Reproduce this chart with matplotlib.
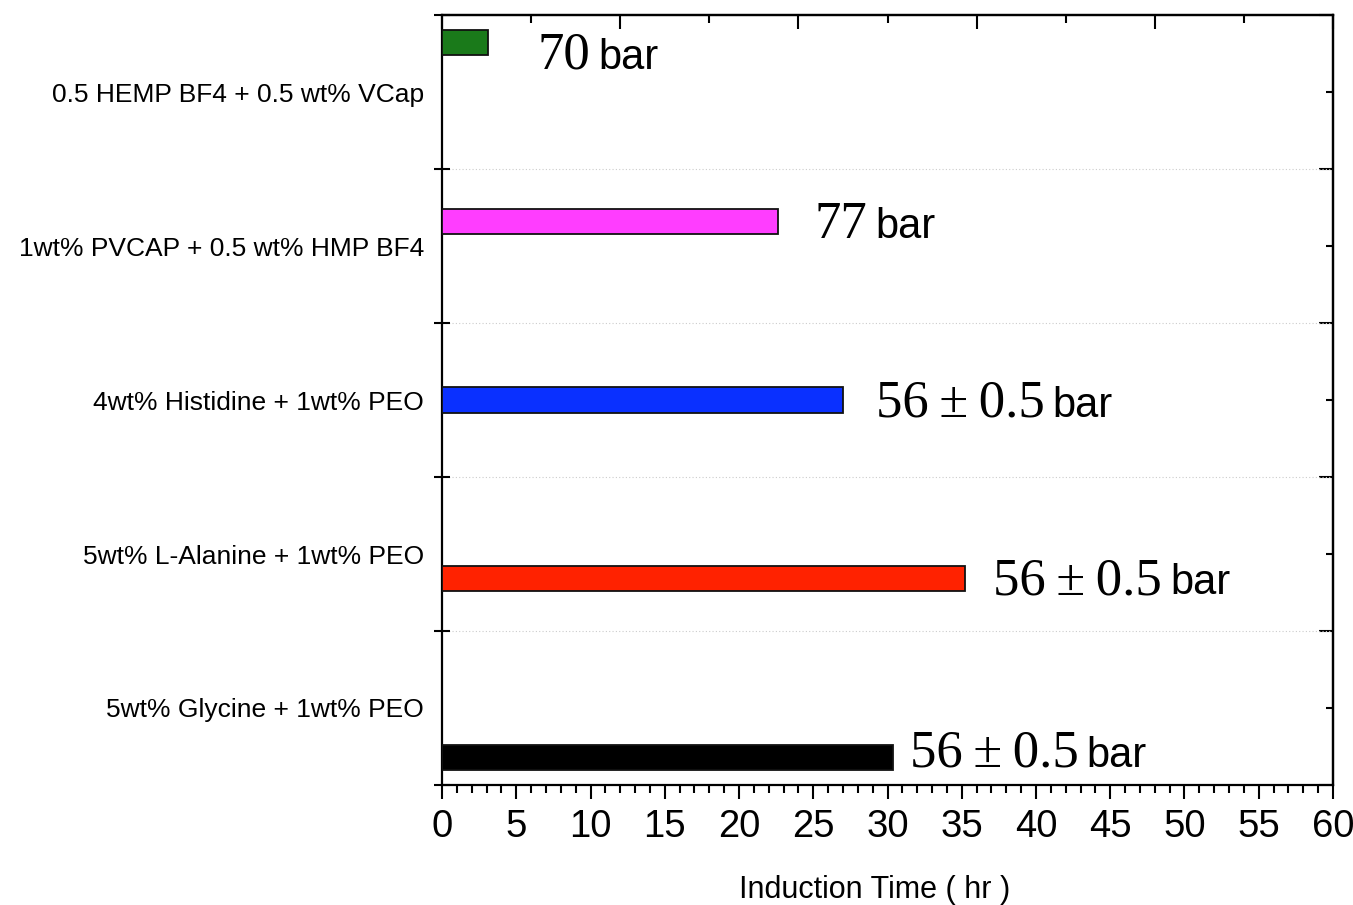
import matplotlib.pyplot as plt
import numpy as np

categories = ['0.5 HEMP BF4 + 0.5 wt% VCap',
              '1wt% PVCAP + 0.5 wt% HMP BF4',
              '4wt% Histidine + 1wt% PEO',
              '5wt% L-Alanine + 1wt% PEO',
              '5wt% Glycine + 1wt% PEO']
induction_time = [3.1, 22.6, 27.0, 35.2, 30.4]
pressure = ['70', '77', '56\u2009\u00b1\u20090.5', '56\u2009\u00b1\u20090.5', '56\u2009\u00b1\u20090.5']
colors = ['#1a7a1a', '#ff3dff', '#0a30ff', '#ff2200', '#000000']

# bars sit off-centre from their category rows, like the original origin plot
bar_pos = [-0.32, 0.84, 2.0, 3.16, 4.32]
lab_x = [6.4, 25.1, 29.2, 37.1, 31.5]
lab_y = [-0.15, 0.95, 2.11, 3.26, 4.38]   # baselines of the pressure labels

sans = ['Liberation Sans', 'DejaVu Sans']
serif = ['Liberation Serif', 'DejaVu Serif']
plt.rcParams['font.family'] = sans

dpi = 100
fig = plt.figure(figsize=(13.53, 9.05), dpi=dpi)
ax = fig.add_axes([0.3267, 0.1326, 0.6585, 0.8508])

ax.barh(bar_pos, induction_time, height=0.165, color=colors,
        edgecolor='#111111', linewidth=1.3, zorder=3)

ax.set_xlim(0, 60)
ax.set_ylim(4.5, -0.5)

ax.set_yticks(range(len(categories)))
ax.set_yticklabels(categories, fontsize=19)
ax.set_yticks(np.arange(-0.5, 5.0, 1.0), minor=True)
ax.tick_params(axis='y', which='major', length=0, pad=13)
ax.tick_params(axis='y', which='minor', direction='inout', length=11, width=1.5)
ax.grid(axis='y', which='minor', linestyle=(0, (1, 2)), color='#cccccc', linewidth=0.8)

ax.set_xticks(np.arange(0, 61, 5))
ax.set_xticks(np.arange(0, 61, 1), minor=True)
ax.tick_params(axis='x', which='major', direction='out', length=10, width=1.5,
               labelsize=27.5, pad=7)
ax.tick_params(axis='x', which='minor', direction='out', length=6, width=1.5)
ax.set_xlabel('Induction Time ( hr )', fontsize=22)
ax.xaxis.set_label_coords(0.486, -0.117)

for s in ax.spines.values():
    s.set_linewidth(1.6)

top = ax.secondary_xaxis('top')
top.set_xticks(np.arange(0, 61, 12))
top.set_xticks(np.arange(6, 61, 12), minor=True)
top.tick_params(which='major', direction='in', length=10, width=1.5, labeltop=False)
top.tick_params(which='minor', direction='in', length=6, width=1.5)
top.spines['top'].set_linewidth(1.6)

right = ax.secondary_yaxis('right')
right.set_yticks(np.arange(-0.5, 5.0, 1.0))
right.set_yticks(range(len(categories)), minor=True)
right.tick_params(which='major', direction='in', length=10, width=1.5, labelright=False)
right.tick_params(which='minor', direction='in', length=5, width=1.5)
right.spines['right'].set_linewidth(1.6)

nums = []
for x, y, p in zip(lab_x, lab_y, pressure):
    t = ax.text(x, y, p, family=serif, fontsize=38, va='baseline', ha='left')
    nums.append(t)

fig.canvas.draw()
renderer = fig.canvas.get_renderer()
for t, x, y in zip(nums, lab_x, lab_y):
    w = t.get_window_extent(renderer).width * 72 / dpi
    ax.annotate('bar', xy=(x, y), xytext=(w + 6, 0), textcoords='offset points',
                fontsize=30, va='baseline', ha='left', family=sans)

fig.savefig('out.png', dpi=dpi)
